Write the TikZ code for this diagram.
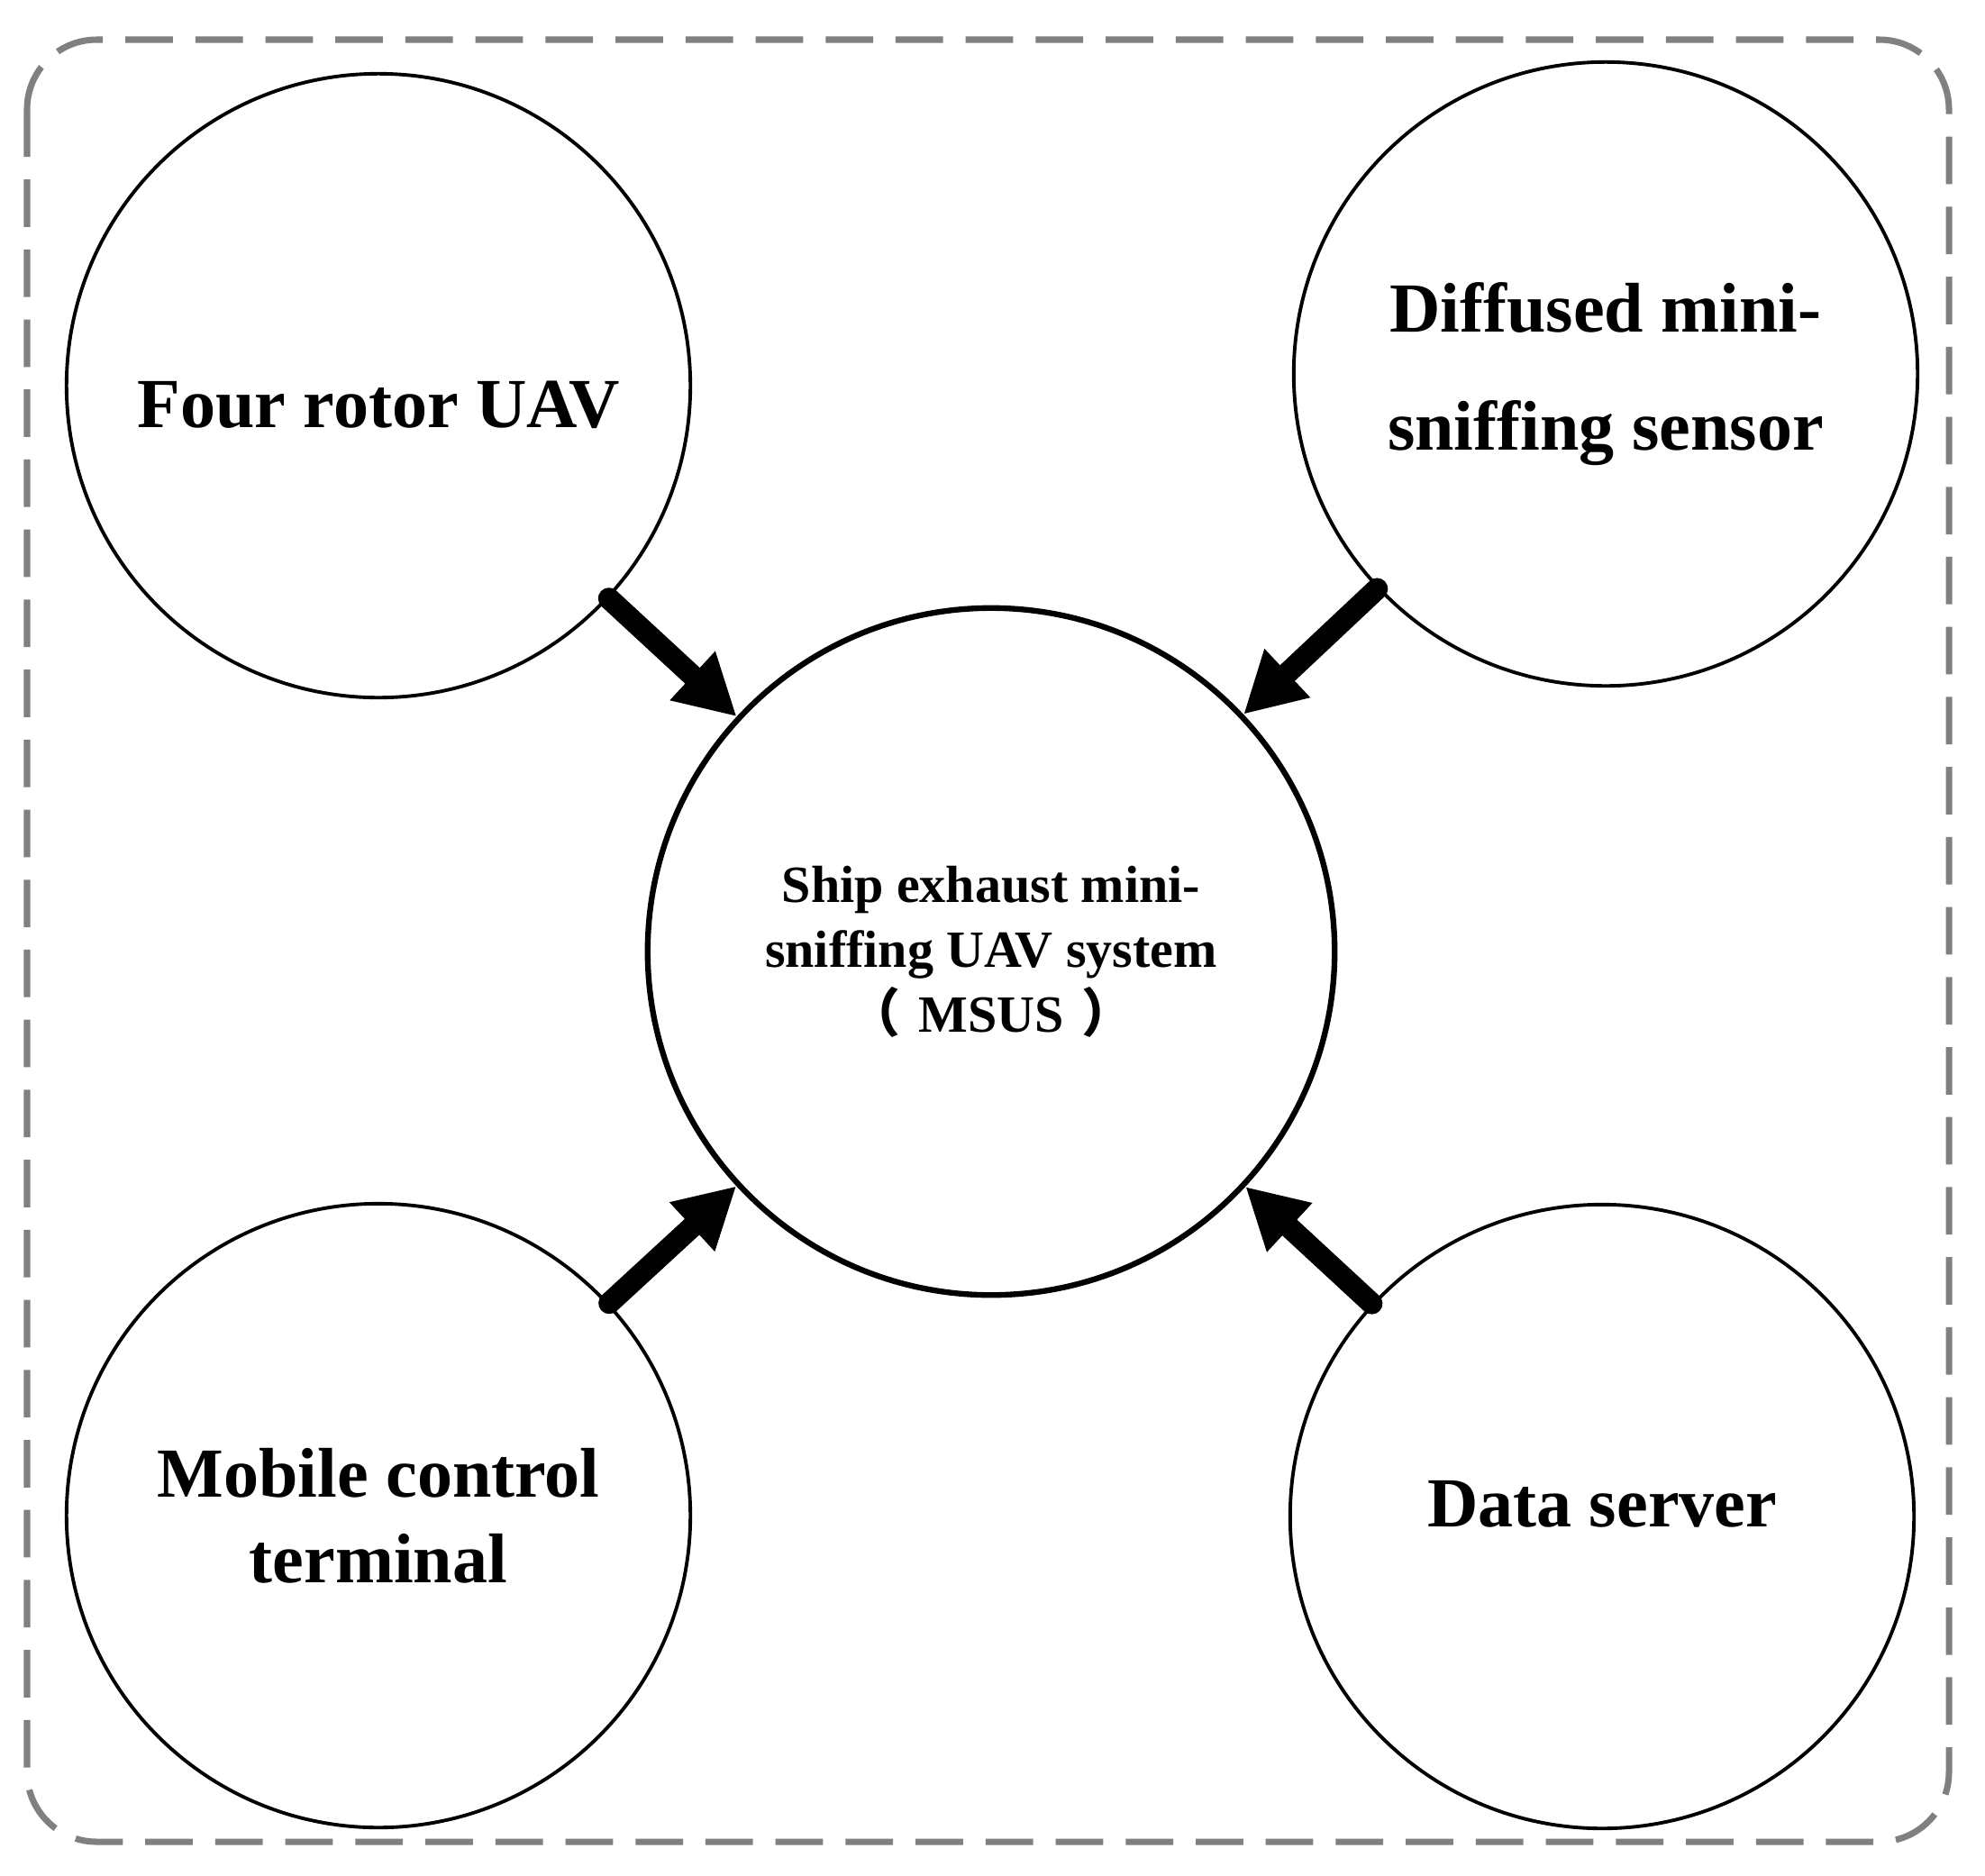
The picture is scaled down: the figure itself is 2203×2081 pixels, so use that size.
\documentclass[tikz,border=0pt]{standalone}
\usepackage{fontspec}
\setmainfont{Liberation Serif}
\newfontfamily\cjk{Noto Sans CJK SC}
\usetikzlibrary{arrows.meta}

\begin{document}
\begin{tikzpicture}[x=0.01cm,y=-0.01cm,>={Triangle[length=19pt,width=19.7pt]}]
\tikzset{unit/.style={circle,draw,line width=1.1pt,minimum size=6.92cm,inner sep=0pt,align=center,font=\bfseries\fontsize{22.2}{37.3}\selectfont},
  feed/.style={->,line width=6.8pt,line cap=round}}
\useasboundingbox (0,0) rectangle (2203,2081);
\draw[gray,line width=2pt,dash pattern=on 15pt off 7.1pt,rounded corners=22pt] (30,44) rectangle (2163,2044);
\node[unit,text height=26.5pt] (uav) at (420,428) {Four rotor UAV};
\node[unit] (sensor) at (1782,415) {Diffused mini-\\sniffing sensor};
\node[unit,font=\bfseries\fontsize{22.2}{27}\selectfont] (terminal) at (420,1682) {Mobile control\\terminal};
\node[unit,text depth=8pt] (server) at (1778,1683) {Data server};
\node[unit,line width=1.8pt,minimum size=7.62cm,font=\bfseries\fontsize{16.5}{20.5}\selectfont] (msus) at (1100,1056) {Ship exhaust mini-\\sniffing UAV system\\{\cjk （}\hspace{0.35em}MSUS\hspace{0.35em}{\cjk ）}};
\foreach \n in {uav,sensor,terminal,server}
  \draw[feed] (\n) -- (msus);
\end{tikzpicture}
\end{document}
